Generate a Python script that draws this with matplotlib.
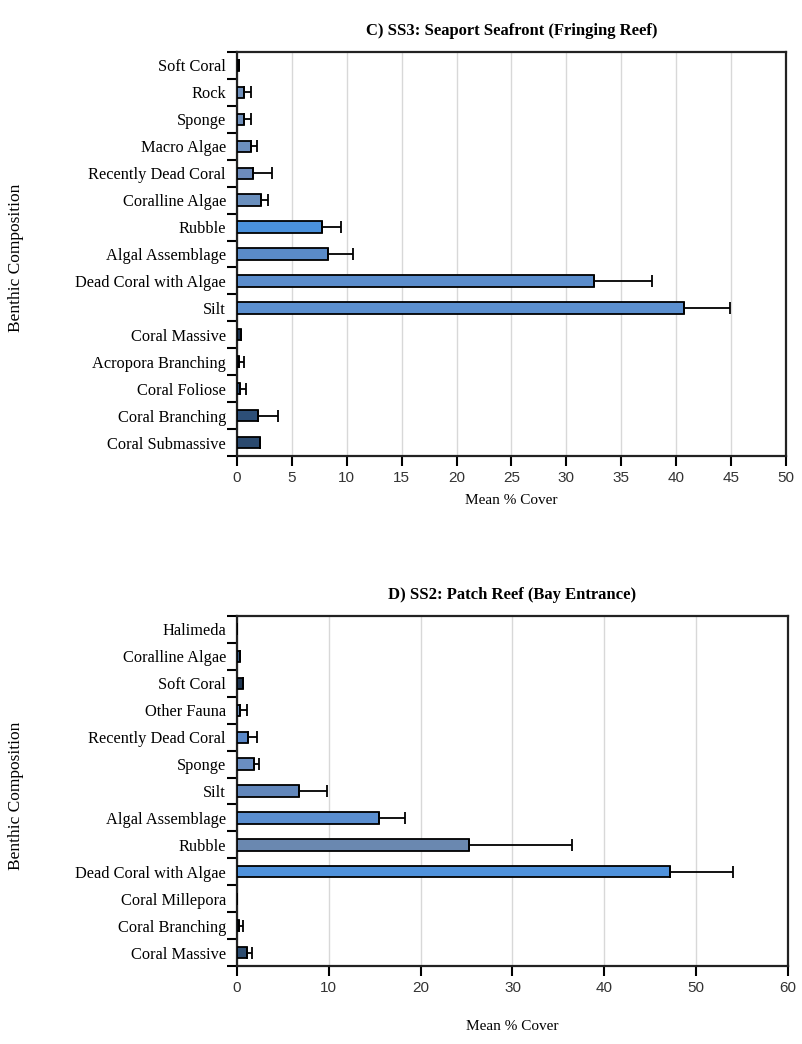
import matplotlib
matplotlib.use("Agg")
import matplotlib.pyplot as plt
import numpy as np

# ---------------- data (bottom-to-top order) ----------------
c_categories = ["Coral Submassive", "Coral Branching", "Coral Foliose", "Acropora Branching",
                "Coral Massive", "Silt", "Dead Coral with Algae", "Algal Assemblage", "Rubble",
                "Coralline Algae", "Recently Dead Coral", "Macro Algae", "Sponge", "Rock", "Soft Coral"]
c_values = [2.1, 1.9, 0.3, 0.15, 0.4, 40.7, 32.5, 8.3, 7.7, 2.2, 1.5, 1.3, 0.6, 0.6, 0.15]
c_errors = [0.0, 1.8, 0.5, 0.45, 0.0, 4.2, 5.3, 2.3, 1.8, 0.6, 1.7, 0.5, 0.7, 0.7, 0.0]
c_ticks = [0, 5, 10, 15, 20, 25, 30, 35, 40, 45, 50]
c_title = "C) SS3: Seaport Seafront (Fringing Reef)"

d_categories = ["Coral Massive", "Coral Branching", "Coral Millepora", "Dead Coral with Algae",
                "Rubble", "Algal Assemblage", "Silt", "Sponge", "Recently Dead Coral",
                "Other Fauna", "Soft Coral", "Coralline Algae", "Halimeda"]
d_values = [1.1, 0.2, 0.0, 47.2, 25.3, 15.5, 6.8, 1.8, 1.2, 0.3, 0.6, 0.35, 0.0]
d_errors = [0.5, 0.5, 0.0, 6.8, 11.2, 2.8, 3.0, 0.6, 1.0, 0.8, 0.0, 0.0, 0.0]
d_ticks = [0, 10, 20, 30, 40, 50, 60]
d_title = "D) SS2: Patch Reef (Bay Entrance)"

# ---------------- styles ----------------
c_colors = ["#2b4a6f", "#2d4f78", "#2e4e74", "#2e4e74", "#1f3550", "#5b8fcf", "#5b8dcc",
            "#5a8bc8", "#4a91dc", "#6a8fbd", "#6d8bbb", "#6c8fbe", "#7090bb", "#7090bb", "#1f3550"]
d_colors = ["#2e4d70", "#3a5a80", "#888888", "#4f92dc", "#6a88b0", "#5a8ed0", "#6287bb",
            "#6a8ec2", "#5a88c8", "#7090bb", "#1f3550", "#3b5b80", "#888888"]

SERIF = ["Liberation Serif", "DejaVu Serif"]
SANS = ["Liberation Sans", "DejaVu Sans"]

fig = plt.figure(figsize=(8.03, 10.44), dpi=100)


def panel(rect, cats, vals, errs, colors, ticks, title, xlabelpad):
    ax = fig.add_axes(rect)
    y = np.arange(len(cats))
    ax.barh(y, vals, height=0.42, color=colors, edgecolor="black", linewidth=1.3, zorder=3)
    ax.errorbar(vals, y, xerr=[np.zeros(len(errs)), errs], fmt="none", ecolor="black",
                elinewidth=1.3, capsize=4.5, capthick=1.3, zorder=4)
    ax.set_xlim(ticks[0], ticks[-1])
    ax.set_ylim(-0.5, len(cats) - 0.5)
    ax.set_xticks(ticks)
    ax.set_xticklabels([str(t) for t in ticks], fontfamily=SANS, fontsize=11, color="#333333")
    ax.set_yticks(y)
    ax.set_yticklabels(cats, fontfamily=SERIF, fontsize=11.8)
    ax.set_yticks(np.arange(len(cats) + 1) - 0.5, minor=True)
    ax.tick_params(axis="y", which="major", length=0, pad=8)
    ax.tick_params(axis="y", which="minor", length=7, width=1.5, direction="out")
    ax.tick_params(axis="x", which="major", length=7, width=1.5, direction="out", pad=4)
    ax.grid(axis="x", color="#d8d8d8", linewidth=1.0, zorder=0)
    ax.set_axisbelow(True)
    for s in ax.spines.values():
        s.set_linewidth(1.6)
        s.set_color("#222222")
    ax.set_title(title, fontfamily=SERIF, fontsize=12, fontweight="bold", pad=12)
    ax.set_xlabel("Mean % Cover", fontfamily=SERIF, fontsize=11, labelpad=xlabelpad)
    return ax


ax1 = panel([237 / 803, 588 / 1044, 549 / 803, 404 / 1044],
            c_categories, c_values, c_errors, c_colors, c_ticks, c_title, 6)
ax2 = panel([237 / 803, 78 / 1044, 551 / 803, 350 / 1044],
            d_categories, d_values, d_errors, d_colors, d_ticks, d_title, 18)

fig.text(16 / 803, 1 - 258 / 1044, "Benthic Composition", rotation=90, ha="center", va="center",
         fontfamily=SERIF, fontsize=12.5)
fig.text(16 / 803, 1 - 796 / 1044, "Benthic Composition", rotation=90, ha="center", va="center",
         fontfamily=SERIF, fontsize=12.5)

fig.savefig("out.png", dpi=100, facecolor="white")
